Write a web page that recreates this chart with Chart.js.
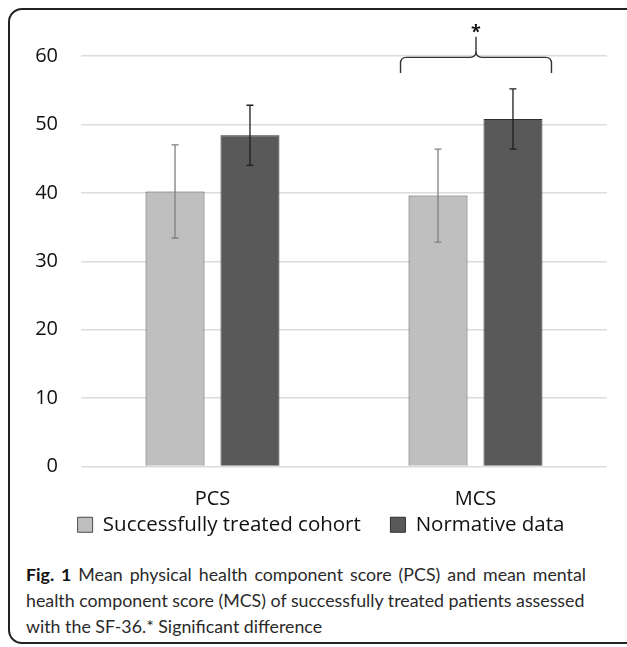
<!DOCTYPE html>
<html>
<head>
<meta charset="utf-8">
<script src="https://cdn.jsdelivr.net/npm/chart.js@4.4.1/dist/chart.umd.min.js"></script>
<style>
    html, body { margin: 0; padding: 0; background: #fff; }
    body { width: 627px; height: 647px; position: relative; overflow: hidden; }
    .frame {
        position: absolute; left: 8px; top: 8px; width: 640px; height: 636px;
        border: 2px solid #222; border-radius: 14px; box-sizing: border-box;
    }
    .chart-box { position: absolute; left: 0; top: 0; width: 627px; height: 550px; }
    .caption {
        position: absolute; left: 26px; top: 561px;
        font-family: Lato, "Open Sans", sans-serif; font-size: 17.8px; line-height: 26px;
        color: #2a2a2a;
    }
    .caption div { white-space: nowrap; }
    .caption .j { text-align: justify; text-align-last: justify; }
    .caption b { color: #111; }
</style>
</head>
<body>
<div class="frame"></div>
<div class="chart-box"><canvas id="chart"></canvas></div>
<div class="caption">
    <div class="j" style="width:560px"><b>Fig. 1</b> Mean physical health component score (PCS) and mean mental</div>
    <div class="j" style="width:558px">health component score (MCS) of successfully treated patients assessed</div>
    <div>with the SF-36.* Significant difference</div>
</div>
<script>
// Chart data
const categories = ['PCS', 'MCS'];
const seriesNames = ['Successfully treated cohort', 'Normative data'];
const cohortMeans = [40.2, 39.6];
const cohortErrors = [6.8, 6.8];
const normativeMeans = [48.4, 50.8];
const normativeErrors = [4.4, 4.4];
const yTicks = [0, 10, 20, 30, 40, 50, 60];

// Significance brace over the MCS group
const significantIndex = 1;

const FONT = '"Open Sans", sans-serif';

// Draws error bars from the dataset's errors array
const errorBarPlugin = {
    id: 'errorBars',
    afterDatasetsDraw(chart) {
        const ctx = chart.ctx;
        const yScale = chart.scales.y;
        chart.data.datasets.forEach((ds, i) => {
            const meta = chart.getDatasetMeta(i);
            ctx.save();
            ctx.strokeStyle = ds.errorColor;
            ctx.lineWidth = 1.3;
            meta.data.forEach((bar, j) => {
                const v = ds.data[j];
                const e = ds.errors[j];
                const yTop = yScale.getPixelForValue(v + e);
                const yBot = yScale.getPixelForValue(v - e);
                const x = bar.x;
                ctx.beginPath();
                ctx.moveTo(x, yTop); ctx.lineTo(x, yBot);
                ctx.moveTo(x - 3.5, yTop); ctx.lineTo(x + 3.5, yTop);
                ctx.moveTo(x - 3.5, yBot); ctx.lineTo(x + 3.5, yBot);
                ctx.stroke();
            });
            ctx.restore();
        });
    }
};

// Curly brace with an asterisk
const bracePlugin = {
    id: 'brace',
    afterDraw(chart) {
        const ctx = chart.ctx;
        const yScale = chart.scales.y;
        const b0 = chart.getDatasetMeta(0).data[significantIndex];
        const b1 = chart.getDatasetMeta(1).data[significantIndex];
        const left = b0.x - b0.width / 2 - 8;
        const right = b1.x + b1.width / 2 + 9;
        const mid = (left + right) / 2;
        const yLine = yScale.getPixelForValue(59.8);
        const yEnd = yScale.getPixelForValue(57.5);
        const yPeak = yScale.getPixelForValue(62.8);
        const r = 6;
        ctx.save();
        ctx.strokeStyle = '#333';
        ctx.lineWidth = 1.4;
        ctx.beginPath();
        ctx.moveTo(left, yEnd);
        ctx.lineTo(left, yLine + r);
        ctx.quadraticCurveTo(left, yLine, left + r, yLine);
        ctx.lineTo(mid - r, yLine);
        ctx.quadraticCurveTo(mid, yLine, mid, yLine - r);
        ctx.lineTo(mid, yPeak);
        ctx.moveTo(mid, yLine - r);
        ctx.quadraticCurveTo(mid, yLine, mid + r, yLine);
        ctx.lineTo(right - r, yLine);
        ctx.quadraticCurveTo(right, yLine, right, yLine + r);
        ctx.lineTo(right, yEnd);
        ctx.stroke();
        ctx.fillStyle = '#111';
        ctx.font = 'bold 18px ' + FONT;
        ctx.textAlign = 'center';
        ctx.textBaseline = 'middle';
        ctx.fillText('*', mid, yScale.getPixelForValue(63.8) + 3);
        ctx.restore();
    }
};

const ctx = document.getElementById('chart').getContext('2d');
new Chart(ctx, {
    type: 'bar',
    data: {
        labels: categories,
        datasets: [
            {
                label: seriesNames[0],
                data: cohortMeans,
                errors: cohortErrors,
                errorColor: '#808080',
                backgroundColor: '#bfbfbf',
                borderColor: '#4a4a4a',
                borderWidth: 1
            },
            {
                label: seriesNames[1],
                data: normativeMeans,
                errors: normativeErrors,
                errorColor: '#1e1e1e',
                backgroundColor: '#595959',
                borderColor: '#2e2e2e',
                borderWidth: 1
            }
        ]
    },
    options: {
        responsive: true,
        maintainAspectRatio: false,
        animation: false,
        categoryPercentage: 0.57,
        barPercentage: 0.787,
        layout: { padding: { left: 35, right: 20, top: 56, bottom: 5 } },
        plugins: {
            legend: {
                position: 'bottom',
                labels: {
                    boxWidth: 15,
                    boxHeight: 15,
                    padding: 3,
                    color: '#111',
                    font: { family: FONT, size: 20.5 },
                    // pad the gap between the two legend items
                    generateLabels(chart) {
                        const items = Chart.defaults.plugins.legend.labels.generateLabels(chart);
                        items.forEach((it, i) => { if (i < items.length - 1) it.text += '     '; });
                        return items;
                    }
                }
            },
            tooltip: { enabled: false }
        },
        scales: {
            x: {
                grid: { display: false, drawTicks: false },
                border: { display: false },
                ticks: {
                    color: '#111',
                    padding: 21,
                    font: { family: FONT, size: 20 }
                },
                afterFit(scale) { scale.height = 45; }
            },
            y: {
                min: 0,
                max: 60,
                afterBuildTicks(scale) { scale.ticks = yTicks.map(v => ({ value: v })); },
                grid: { color: '#dcdcdc', lineWidth: 1.5, drawTicks: false },
                border: { display: false },
                ticks: {
                    color: '#111',
                    padding: 23,
                    font: { family: FONT, size: 20 }
                },
                afterFit(scale) { scale.width = 46; }
            }
        }
    },
    plugins: [errorBarPlugin, bracePlugin]
});
</script>
</body>
</html>
